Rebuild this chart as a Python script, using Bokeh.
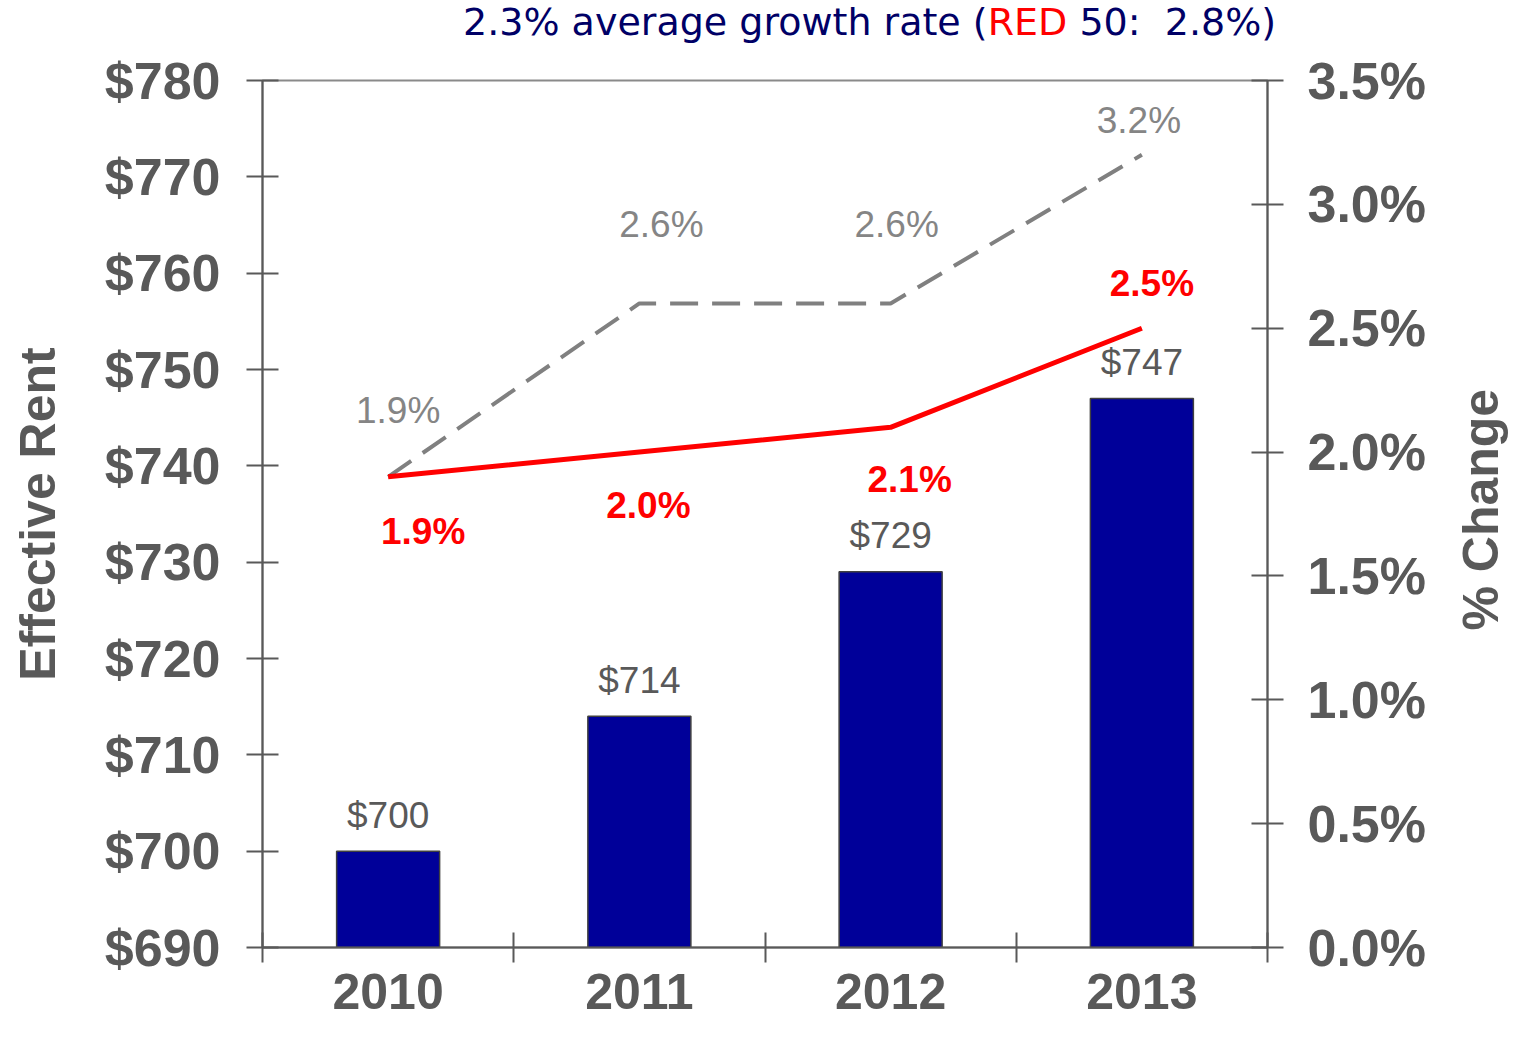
import math
from bokeh.plotting import figure
from bokeh.layouts import column, row
from bokeh.models import (Range1d, LinearAxis, FixedTicker, NumeralTickFormatter,
                          PrintfTickFormatter, ColumnDataSource, Div)
from bokeh.core.properties import value
from bokeh.embed import file_html
from bokeh.resources import INLINE

# ---------------- data ----------------
years = ["2010", "2011", "2012", "2013"]
rents = [700, 714, 729, 747]
growth_red = [1.9, 2.0, 2.1, 2.5]
growth_gray = [1.9, 2.6, 2.6, 3.2]
rent_ticks = [690, 700, 710, 720, 730, 740, 750, 760, 770, 780]
pct_ticks = [0.0, 0.5, 1.0, 1.5, 2.0, 2.5, 3.0, 3.5]
title_parts = ["2.3% average growth rate (", "RED", " 50:&nbsp; 2.8%)"]
left_title = "Effective Rent"
right_title = "% Change"

# ---------------- styling ----------------
W, H = 1510, 1031
TITLE_H = 44
PW = 1454                      # plot width; right strip holds the right title
AX = "#595959"
TICK_FONT = "Liberation Sans"

xs = [i + 0.5 for i in range(len(years))]

title_html = (
    '<div style="font-family:\'DejaVu Sans\'; font-size:38px; line-height:44px; '
    'color:#000066; white-space:nowrap; margin-left:463px;">'
    '%s<span style="color:#FF0000">%s</span>%s</div>' % tuple(title_parts)
)
title_div = Div(text=title_html, width=W, height=TITLE_H, margin=(0, 0, 0, 0))

right_html = (
    '<div style="width:%dpx; height:%dpx; display:flex; align-items:center; '
    'justify-content:center;"><div style="transform:rotate(-90deg); white-space:nowrap; '
    'font-family:\'Liberation Sans\'; font-weight:bold; font-size:50px; color:%s;">%s</div></div>'
    % (W - PW, 2 * (510 - TITLE_H), AX, right_title)
)
right_div = Div(text=right_html, width=W - PW, height=H - TITLE_H, margin=(0, 0, 0, 0))

p = figure(width=PW, height=H - TITLE_H, x_range=Range1d(0, len(years)),
           y_range=Range1d(rent_ticks[0], rent_ticks[-1]),
           output_backend="svg", toolbar_location=None,
           min_border_left=262, min_border_right=PW - 1267,
           min_border_top=80 - TITLE_H, min_border_bottom=H - 947,
           margin=(0, 0, 0, 0))
p.extra_y_ranges = {"pct": Range1d(pct_ticks[0], pct_ticks[-1])}
p.xgrid.visible = False
p.ygrid.visible = False
p.outline_line_color = "#8a8a8a"
p.outline_line_width = 2
p.background_fill_color = "white"
p.border_fill_color = "white"

# bars
src = ColumnDataSource(dict(x=xs, rent=rents, label=["$%d" % r for r in rents]))
p.vbar(x="x", top="rent", bottom=rent_ticks[0], width=0.41, source=src,
       fill_color="#000099", line_color="#404040", line_width=1.5)
p.text(x="x", y="rent", text="label", source=src, text_align="center",
       text_baseline="middle", y_offset=-36, text_font=value(TICK_FONT),
       text_font_size="37px", text_color=AX)

# lines
gsrc = ColumnDataSource(dict(x=xs, y=growth_gray, label=["%.1f%%" % v for v in growth_gray],
                             dx=[10, 22, 6, -3], dy=[-66, -79, -79, -34]))
rsrc = ColumnDataSource(dict(x=xs, y=growth_red, label=["%.1f%%" % v for v in growth_red],
                             dx=[35, 9, 19, 10], dy=[55, 53, 52, -45]))
p.line(x="x", y="y", source=gsrc, y_range_name="pct", line_color="#808080",
       line_width=4, line_dash="28 14")
p.line(x="x", y="y", source=rsrc, y_range_name="pct", line_color="#FF0000",
       line_width=5)
p.text(x="x", y="y", text="label", source=gsrc, y_range_name="pct",
       x_offset="dx", y_offset="dy", text_align="center", text_baseline="middle",
       text_font=value(TICK_FONT), text_font_size="37px", text_color="#858585")
p.text(x="x", y="y", text="label", source=rsrc, y_range_name="pct",
       x_offset="dx", y_offset="dy", text_align="center", text_baseline="middle",
       text_font=value(TICK_FONT), text_font_size="37px", text_font_style="bold",
       text_color="#FF0000")

# x axis
xa = p.xaxis[0]
xa.ticker = FixedTicker(ticks=xs, minor_ticks=list(range(len(years) + 1)))
xa.major_label_overrides = {x: y for x, y in zip(xs, years)}
xa.major_tick_line_color = None
xa.major_tick_in = 0
xa.major_tick_out = 15
xa.minor_tick_line_color = AX
xa.minor_tick_line_width = 2
xa.minor_tick_in = 15
xa.minor_tick_out = 15
xa.major_label_standoff = 11
xa.axis_line_color = AX
xa.axis_line_width = 2
xa.major_label_text_font = TICK_FONT
xa.major_label_text_font_style = "bold"
xa.major_label_text_font_size = "50px"
xa.major_label_text_color = AX

# left axis
ya = p.yaxis[0]
ya.ticker = FixedTicker(ticks=rent_ticks)
ya.formatter = NumeralTickFormatter(format="$0")
ya.minor_tick_line_color = None
ya.major_tick_in = 16
ya.major_tick_out = 16
ya.major_tick_line_color = AX
ya.major_tick_line_width = 2
ya.axis_line_color = AX
ya.axis_line_width = 2
ya.major_label_standoff = 26
ya.major_label_text_font = TICK_FONT
ya.major_label_text_font_style = "bold"
ya.major_label_text_font_size = "52px"
ya.major_label_text_color = AX
ya.axis_label = left_title
ya.axis_label_text_font = TICK_FONT
ya.axis_label_text_font_style = "bold"
ya.axis_label_text_font_size = "50px"
ya.axis_label_text_color = AX
ya.axis_label_standoff = 36

# right axis
ra = LinearAxis(y_range_name="pct", ticker=FixedTicker(ticks=pct_ticks),
                formatter=PrintfTickFormatter(format="%.1f%%"))
ra.minor_tick_line_color = None
ra.major_tick_in = 16
ra.major_tick_out = 16
ra.major_tick_line_color = AX
ra.major_tick_line_width = 2
ra.axis_line_color = AX
ra.axis_line_width = 2
ra.major_label_standoff = 24
ra.major_label_text_font = TICK_FONT
ra.major_label_text_font_style = "bold"
ra.major_label_text_font_size = "52px"
ra.major_label_text_color = AX
p.add_layout(ra, "right")

layout = column(title_div, row(p, right_div, spacing=0, margin=(0, 0, 0, 0)),
                spacing=0, margin=(0, 0, 0, 0))
open("out.html", "w").write(file_html(layout, INLINE))
